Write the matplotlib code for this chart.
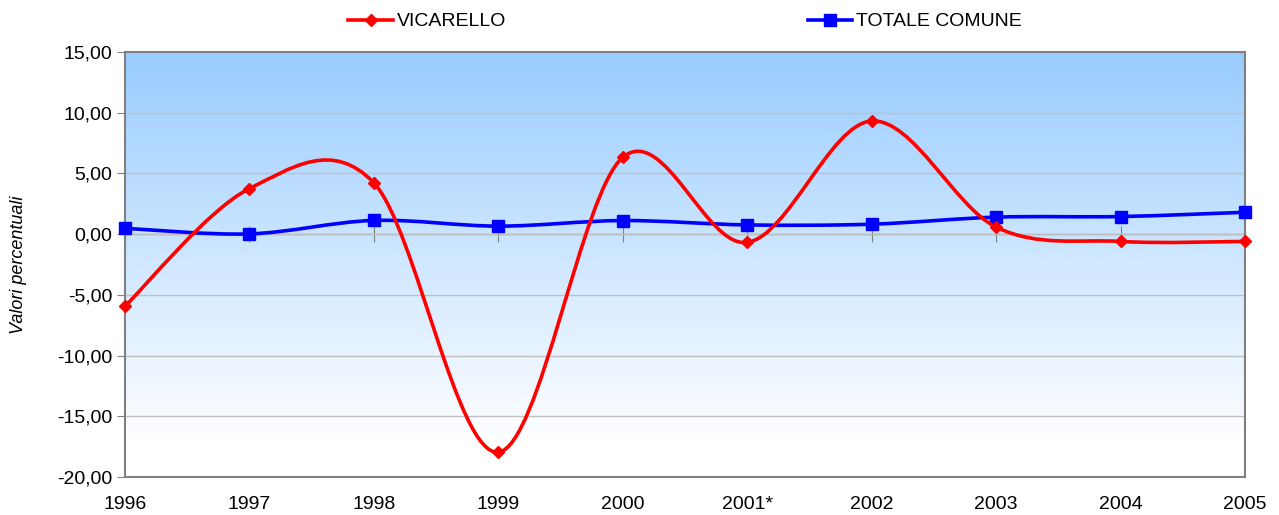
import numpy as np
import matplotlib
matplotlib.use("Agg")
import matplotlib.pyplot as plt
from matplotlib.path import Path
from matplotlib.patches import PathPatch
from matplotlib.lines import Line2D

plt.rcParams['font.family'] = ['Liberation Sans', 'DejaVu Sans']

# dati
anni = ["1996", "1997", "1998", "1999", "2000", "2001*", "2002", "2003", "2004", "2005"]
vicarello = [-5.93, 3.75, 4.22, -17.96, 6.32, -0.68, 9.32, 0.58, -0.6, -0.6]
totale_comune = [0.48, 0.02, 1.13, 0.66, 1.12, 0.76, 0.82, 1.4, 1.45, 1.8]


def curva_smussata(xs, ys):
    # curva di Bezier tipo Catmull-Rom (linea smussata come in Excel)
    pts = np.column_stack([xs, ys]).astype(float)
    n = len(pts)
    verts = [pts[0]]
    codes = [Path.MOVETO]
    for i in range(n - 1):
        p0 = pts[max(i - 1, 0)]
        p1 = pts[i]
        p2 = pts[i + 1]
        p3 = pts[min(i + 2, n - 1)]
        c1 = p1 + (p2 - p0) / 6.0
        c2 = p2 - (p3 - p1) / 6.0
        verts += [c1, c2, p2]
        codes += [Path.CURVE4] * 3
    return Path(verts, codes)


x = np.arange(len(anni))

fig = plt.figure(figsize=(12.79, 5.15), dpi=100)
ax = fig.add_axes([0.0977, 0.0738, 0.8757, 0.8252])

# sfondo sfumato
grad = np.clip(np.linspace(0, 1, 256) / 0.92, 0, 1).reshape(-1, 1)
top = np.array([153, 204, 255]) / 255.0
bottom = np.array([255, 255, 255]) / 255.0
img = top[None, None, :] * (1 - grad[:, :, None]) + bottom[None, None, :] * grad[:, :, None]
ax.imshow(img, extent=[0, 1, 0, 1], transform=ax.transAxes, aspect='auto', zorder=0)

ax.set_xlim(x[0], x[-1])
ax.set_ylim(-20, 15)
ax.set_yticks(np.arange(-20, 16, 5))
ax.set_yticklabels([("%.2f" % v).replace(".", ",") for v in np.arange(-20, 16, 5)])
ax.yaxis.grid(True, color="#c0c0c0", linewidth=1, zorder=1)
ax.set_axisbelow(True)
ax.tick_params(axis='y', direction='out', length=6, color="#808080", labelsize=14, pad=3)

ax.set_xticks(x)
ax.set_xticklabels(anni)
ax.tick_params(axis='x', length=0, labelsize=14, pad=14)

for s in ax.spines.values():
    s.set_color("#808080")
    s.set_linewidth(1.5)

# asse orizzontale sullo zero con le tacche
asse0 = ax.secondary_xaxis(20 / 35.0)
asse0.set_xticks(x)
asse0.set_xticklabels([])
asse0.tick_params(direction='inout', length=12, color="#808080")
asse0.spines['bottom'].set_color("#808080")
asse0.spines['bottom'].set_linewidth(1.5)

# linee
ax.add_patch(PathPatch(curva_smussata(x, totale_comune), fill=False, edgecolor="#0000ff",
                       linewidth=2.6, zorder=3, clip_on=False))
ax.plot(x, totale_comune, linestyle='none', marker='s', markersize=8, color="#0000ff",
        zorder=4, clip_on=False)
ax.add_patch(PathPatch(curva_smussata(x, vicarello), fill=False, edgecolor="#ff0000",
                       linewidth=2.6, zorder=5, clip_on=False))
ax.plot(x, vicarello, linestyle='none', marker='D', markersize=6.3, color="#ff0000",
        zorder=6, clip_on=False)

ax.set_ylabel("Valori percentuali", fontsize=13, style='italic', labelpad=22)

handles = [
    Line2D([], [], color="#ff0000", linewidth=2.6, marker='D', markersize=6.3),
    Line2D([], [], color="#0000ff", linewidth=2.6, marker='s', markersize=8),
]
fig.legend(handles, ["VICARELLO", "TOTALE COMUNE"], loc='center', bbox_to_anchor=(0.5356, 0.958),
           ncol=2, frameon=False, fontsize=14, handlelength=2.3, handletextpad=0.2,
           columnspacing=15.5)

fig.savefig("out.png", dpi=100)
